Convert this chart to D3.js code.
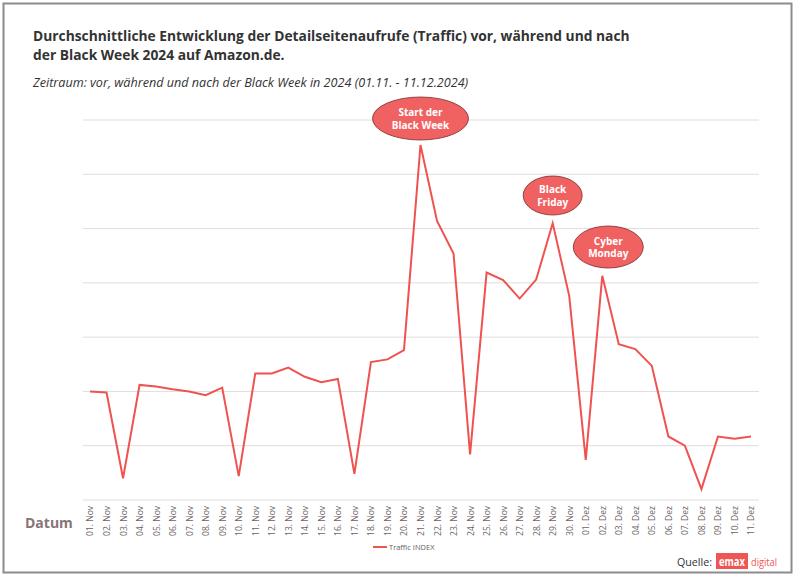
<!DOCTYPE html>
<html><head><meta charset="utf-8">
<script src="https://cdn.jsdelivr.net/npm/d3@7"></script>
<style>body{margin:0;background:#fff;} svg{display:block;}</style>
</head><body>
<svg id="c" width="799" height="580"></svg>
<script>
const dates = ["01. Nov","02. Nov","03. Nov","04. Nov","05. Nov","06. Nov","07. Nov","08. Nov","09. Nov","10. Nov",
"11. Nov","12. Nov","13. Nov","14. Nov","15. Nov","16. Nov","17. Nov","18. Nov","19. Nov","20. Nov",
"21. Nov","22. Nov","23. Nov","24. Nov","25. Nov","26. Nov","27. Nov","28. Nov","29. Nov","30. Nov",
"01. Dez","02. Dez","03. Dez","04. Dez","05. Dez","06. Dez","07. Dez","08. Dez","09. Dez","10. Dez","11. Dez"];
const traffic = [2.0,1.98,0.40,2.12,2.09,2.04,2.0,1.93,2.07,0.44,
2.33,2.33,2.44,2.27,2.17,2.23,0.48,2.54,2.59,2.76,
6.54,5.14,4.54,0.84,4.19,4.05,3.71,4.06,5.10,3.76,
0.74,4.13,2.87,2.78,2.47,1.17,1.0,0.20,1.17,1.13,1.17];
const yTicks = [0,1,2,3,4,5,6,7];
const annotations = [
  {date:"21. Nov", lines:["Start der","Black Week"]},
  {date:"29. Nov", lines:["Black","Friday"]},
  {date:"02. Dez", lines:["Cyber","Monday"]}
];
const annoGeom = {"21. Nov":{dx:0,cy:118.5,rx:48,ry:21.5},"29. Nov":{dx:0,cy:195.5,rx:29.5,ry:19.5},"02. Dez":{dx:6,cy:247,rx:35,ry:21}};

const svg = d3.select("#c");
const font = "'Open Sans', 'Noto Sans', sans-serif";
svg.append("rect").attr("x",3.5).attr("y",3.5).attr("width",788).attr("height",569)
  .attr("fill","#fff").attr("stroke","#8c8c8c").attr("stroke-width",2);

const x = d3.scalePoint().domain(dates).range([90,751]);
const y = d3.scaleLinear().domain([0,7]).range([500,120]);

// gridlines
svg.append("g").selectAll("line").data(yTicks).join("line")
  .attr("x1",83).attr("x2",759).attr("y1",d=>y(d)).attr("y2",d=>y(d))
  .attr("stroke","#dedede").attr("stroke-width",1);

// x axis labels
const xa = svg.append("g").attr("transform","translate(0,500)")
  .call(d3.axisBottom(x).tickSize(0).tickPadding(0));
xa.select(".domain").remove();
xa.selectAll("text").attr("transform","rotate(-90)").attr("text-anchor","end")
  .attr("x",-6).attr("y",0).attr("dy","0.35em")
  .attr("fill","#6e5f5f").style("font-family",font).style("font-size","8.5px");

// line
const line = d3.line().x((d,i)=>x(dates[i])).y(d=>y(d));
svg.append("path").datum(traffic).attr("d",line).attr("fill","none")
  .attr("stroke","#ef5350").attr("stroke-width",2).attr("stroke-linejoin","miter");

// annotations
annotations.forEach(a=>{
  const g = annoGeom[a.date];
  const cx = x(a.date)+g.dx;
  svg.append("ellipse").attr("cx",cx).attr("cy",g.cy).attr("rx",g.rx).attr("ry",g.ry)
    .attr("fill","#f06262").attr("stroke","#7a2a2a").attr("stroke-width",0.8);
  a.lines.forEach((t,i)=>{
    svg.append("text").attr("x",cx).attr("y",g.cy+(i-0.5)*12.5+4).attr("text-anchor","middle")
      .attr("fill","#fff").style("font-family",font).style("font-weight","bold").style("font-size","10px").text(t);
  });
});

// titles
const title = svg.append("text").attr("fill","#333").style("font-family",font).style("font-weight","bold").style("font-size","13.8px");
title.append("tspan").attr("x",33).attr("y",41).text("Durchschnittliche Entwicklung der Detailseitenaufrufe (Traffic) vor, während und nach");
title.append("tspan").attr("x",33).attr("y",60).text("der Black Week 2024 auf Amazon.de.");
svg.append("text").attr("x",33).attr("y",87).attr("fill","#333").style("font-family",font).style("font-style","italic").style("font-size","12.6px")
  .text("Zeitraum: vor, während und nach der Black Week in 2024 (01.11. - 11.12.2024)");

// axis title
svg.append("text").attr("x",25).attr("y",528).attr("fill","#857575").style("font-family",font).style("font-weight","bold").style("font-size","14px").text("Datum");

// legend
svg.append("line").attr("x1",373).attr("x2",387).attr("y1",547).attr("y2",547).attr("stroke","#ef5350").attr("stroke-width",2);
svg.append("text").attr("x",389).attr("y",550).attr("fill","#666").style("font-family",font).style("font-size","7.5px").text("Traffic INDEX");

// source
svg.append("text").attr("x",677).attr("y",566).attr("fill","#333").style("font-family",font).style("font-size","11.5px")
  .attr("textLength",35).attr("lengthAdjust","spacingAndGlyphs").text("Quelle:");
svg.append("rect").attr("x",716).attr("y",553).attr("width",32).attr("height",16).attr("fill","#ef5555");
svg.append("text").attr("x",719).attr("y",566).attr("fill","#fff").style("font-family",font).style("font-weight","bold").style("font-size","12px")
  .attr("textLength",26).attr("lengthAdjust","spacingAndGlyphs").text("emax");
svg.append("text").attr("x",751).attr("y",566).attr("fill","#ef5555").style("font-family",font).style("font-size","11.5px")
  .attr("textLength",26).attr("lengthAdjust","spacingAndGlyphs").text("digital");
</script>
</body></html>
